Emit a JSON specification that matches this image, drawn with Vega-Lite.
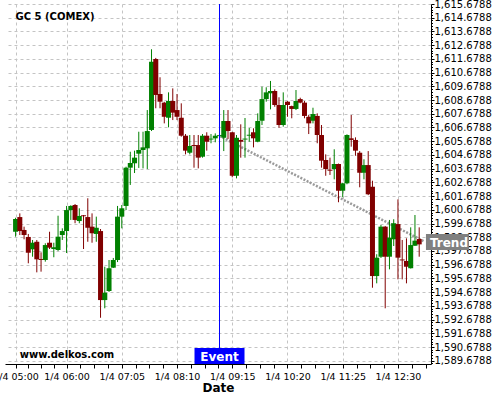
{
  "$schema": "https://vega.github.io/schema/vega-lite/v6.json",
  "width": 426,
  "height": 360,
  "autosize": "none",
  "padding": {"left": 5, "top": 4, "right": 69, "bottom": 36},
  "background": "white",
  "config": {"view": {"stroke": null}, "font": "DejaVu Sans"},
  "datasets": {
    "candles": [
      {"t":"2013-01-04T05:00","o":1599.08,"h":1600.10,"l":1598.72,"c":1600.01},
      {"t":"2013-01-04T05:05","o":1600.15,"h":1600.42,"l":1598.84,"c":1599.13},
      {"t":"2013-01-04T05:10","o":1599.21,"h":1599.45,"l":1598.53,"c":1598.84},
      {"t":"2013-01-04T05:15","o":1598.70,"h":1598.92,"l":1596.78,"c":1597.55},
      {"t":"2013-01-04T05:20","o":1597.80,"h":1598.48,"l":1597.26,"c":1598.28},
      {"t":"2013-01-04T05:25","o":1598.35,"h":1598.48,"l":1596.12,"c":1597.07},
      {"t":"2013-01-04T05:30","o":1597.09,"h":1597.58,"l":1596.17,"c":1597.02},
      {"t":"2013-01-04T05:35","o":1597.02,"h":1598.24,"l":1596.90,"c":1598.11},
      {"t":"2013-01-04T05:40","o":1598.28,"h":1599.08,"l":1597.82,"c":1597.92},
      {"t":"2013-01-04T05:45","o":1597.82,"h":1598.28,"l":1597.22,"c":1597.95},
      {"t":"2013-01-04T05:50","o":1597.75,"h":1600.25,"l":1597.68,"c":1598.72},
      {"t":"2013-01-04T05:55","o":1598.84,"h":1599.33,"l":1598.48,"c":1599.13},
      {"t":"2013-01-04T06:00","o":1599.13,"h":1600.96,"l":1597.53,"c":1600.66},
      {"t":"2013-01-04T06:05","o":1600.66,"h":1601.01,"l":1599.94,"c":1600.96},
      {"t":"2013-01-04T06:10","o":1601.03,"h":1601.10,"l":1599.70,"c":1599.94},
      {"t":"2013-01-04T06:15","o":1599.86,"h":1600.79,"l":1599.70,"c":1600.23},
      {"t":"2013-01-04T06:20","o":1600.28,"h":1600.30,"l":1597.82,"c":1600.21},
      {"t":"2013-01-04T06:25","o":1600.15,"h":1601.52,"l":1598.35,"c":1599.37},
      {"t":"2013-01-04T06:30","o":1599.45,"h":1600.42,"l":1598.28,"c":1598.97},
      {"t":"2013-01-04T06:35","o":1598.92,"h":1600.18,"l":1598.35,"c":1599.37},
      {"t":"2013-01-04T06:40","o":1599.13,"h":1599.28,"l":1592.81,"c":1594.10},
      {"t":"2013-01-04T06:45","o":1594.10,"h":1596.53,"l":1593.50,"c":1594.64},
      {"t":"2013-01-04T06:50","o":1594.76,"h":1597.02,"l":1594.69,"c":1596.42},
      {"t":"2013-01-04T06:55","o":1596.46,"h":1597.17,"l":1596.44,"c":1597.02},
      {"t":"2013-01-04T07:00","o":1597.02,"h":1600.96,"l":1596.87,"c":1600.18},
      {"t":"2013-01-04T07:05","o":1600.18,"h":1601.03,"l":1599.33,"c":1600.79},
      {"t":"2013-01-04T07:10","o":1600.96,"h":1603.82,"l":1600.66,"c":1603.75},
      {"t":"2013-01-04T07:15","o":1603.75,"h":1604.91,"l":1602.49,"c":1604.09},
      {"t":"2013-01-04T07:20","o":1604.07,"h":1604.99,"l":1603.36,"c":1604.48},
      {"t":"2013-01-04T07:25","o":1604.77,"h":1606.37,"l":1603.73,"c":1605.04},
      {"t":"2013-01-04T07:30","o":1605.04,"h":1606.37,"l":1603.70,"c":1605.23},
      {"t":"2013-01-04T07:35","o":1605.16,"h":1607.95,"l":1603.65,"c":1606.42},
      {"t":"2013-01-04T07:40","o":1606.50,"h":1612.38,"l":1606.42,"c":1611.47},
      {"t":"2013-01-04T07:45","o":1611.67,"h":1611.75,"l":1608.08,"c":1609.05},
      {"t":"2013-01-04T07:50","o":1609.12,"h":1610.34,"l":1608.08,"c":1608.56},
      {"t":"2013-01-04T07:55","o":1608.49,"h":1608.55,"l":1606.98,"c":1607.46},
      {"t":"2013-01-04T08:00","o":1607.39,"h":1609.24,"l":1606.69,"c":1608.61},
      {"t":"2013-01-04T08:05","o":1608.61,"h":1609.53,"l":1607.22,"c":1607.76},
      {"t":"2013-01-04T08:10","o":1607.95,"h":1609.12,"l":1607.22,"c":1607.46},
      {"t":"2013-01-04T08:15","o":1607.39,"h":1608.44,"l":1606.01,"c":1606.08},
      {"t":"2013-01-04T08:20","o":1606.08,"h":1606.20,"l":1604.72,"c":1604.99},
      {"t":"2013-01-04T08:25","o":1604.84,"h":1606.13,"l":1604.72,"c":1605.33},
      {"t":"2013-01-04T08:30","o":1605.40,"h":1606.13,"l":1603.75,"c":1605.33},
      {"t":"2013-01-04T08:35","o":1605.40,"h":1606.13,"l":1603.70,"c":1604.48},
      {"t":"2013-01-04T08:40","o":1604.55,"h":1606.20,"l":1604.48,"c":1606.08},
      {"t":"2013-01-04T08:45","o":1606.08,"h":1606.33,"l":1604.99,"c":1605.64},
      {"t":"2013-01-04T08:50","o":1605.80,"h":1606.20,"l":1605.53,"c":1605.87},
      {"t":"2013-01-04T08:55","o":1605.89,"h":1606.25,"l":1605.60,"c":1606.08},
      {"t":"2013-01-04T09:00","o":1606.05,"h":1606.20,"l":1605.98,"c":1606.12},
      {"t":"2013-01-04T09:05","o":1605.93,"h":1607.95,"l":1604.96,"c":1607.15},
      {"t":"2013-01-04T09:10","o":1607.15,"h":1607.95,"l":1605.84,"c":1606.42},
      {"t":"2013-01-04T09:15","o":1606.33,"h":1606.36,"l":1603.05,"c":1603.16},
      {"t":"2013-01-04T09:20","o":1603.16,"h":1606.13,"l":1602.97,"c":1605.93},
      {"t":"2013-01-04T09:25","o":1605.77,"h":1606.91,"l":1604.48,"c":1605.64},
      {"t":"2013-01-04T09:30","o":1605.80,"h":1607.37,"l":1604.48,"c":1605.87},
      {"t":"2013-01-04T09:35","o":1606.08,"h":1606.64,"l":1605.64,"c":1606.15},
      {"t":"2013-01-04T09:40","o":1606.33,"h":1606.62,"l":1605.23,"c":1605.89},
      {"t":"2013-01-04T09:45","o":1605.64,"h":1607.71,"l":1605.60,"c":1607.15},
      {"t":"2013-01-04T09:50","o":1607.17,"h":1609.65,"l":1606.86,"c":1608.75},
      {"t":"2013-01-04T09:55","o":1608.75,"h":1609.61,"l":1608.56,"c":1609.24},
      {"t":"2013-01-04T10:00","o":1609.17,"h":1610.07,"l":1608.00,"c":1609.34},
      {"t":"2013-01-04T10:05","o":1609.34,"h":1609.46,"l":1608.19,"c":1608.32},
      {"t":"2013-01-04T10:10","o":1608.32,"h":1608.88,"l":1606.66,"c":1606.86},
      {"t":"2013-01-04T10:15","o":1606.86,"h":1609.24,"l":1606.74,"c":1608.32},
      {"t":"2013-01-04T10:20","o":1608.56,"h":1608.60,"l":1607.46,"c":1608.32},
      {"t":"2013-01-04T10:25","o":1608.24,"h":1608.27,"l":1607.35,"c":1608.03},
      {"t":"2013-01-04T10:30","o":1608.03,"h":1609.41,"l":1607.95,"c":1608.61},
      {"t":"2013-01-04T10:35","o":1608.75,"h":1608.85,"l":1608.44,"c":1608.49},
      {"t":"2013-01-04T10:40","o":1608.49,"h":1608.61,"l":1607.35,"c":1607.52},
      {"t":"2013-01-04T10:45","o":1607.46,"h":1607.59,"l":1606.20,"c":1606.98},
      {"t":"2013-01-04T10:50","o":1607.17,"h":1608.12,"l":1606.98,"c":1607.66},
      {"t":"2013-01-04T10:55","o":1607.52,"h":1607.71,"l":1605.53,"c":1606.13},
      {"t":"2013-01-04T11:00","o":1606.13,"h":1606.86,"l":1603.75,"c":1604.26},
      {"t":"2013-01-04T11:05","o":1604.31,"h":1604.72,"l":1603.16,"c":1603.65},
      {"t":"2013-01-04T11:10","o":1603.60,"h":1604.48,"l":1603.22,"c":1603.53},
      {"t":"2013-01-04T11:15","o":1603.65,"h":1605.09,"l":1602.90,"c":1604.02},
      {"t":"2013-01-04T11:20","o":1604.02,"h":1604.05,"l":1601.23,"c":1602.07},
      {"t":"2013-01-04T11:25","o":1602.07,"h":1602.65,"l":1601.59,"c":1602.61},
      {"t":"2013-01-04T11:30","o":1602.61,"h":1606.18,"l":1602.54,"c":1606.13},
      {"t":"2013-01-04T11:35","o":1605.89,"h":1607.59,"l":1605.28,"c":1605.77},
      {"t":"2013-01-04T11:40","o":1605.77,"h":1605.96,"l":1604.62,"c":1604.99},
      {"t":"2013-01-04T11:45","o":1604.84,"h":1604.96,"l":1602.32,"c":1603.38},
      {"t":"2013-01-04T11:50","o":1603.38,"h":1604.36,"l":1602.90,"c":1603.94},
      {"t":"2013-01-04T11:55","o":1603.94,"h":1604.96,"l":1601.75,"c":1601.81},
      {"t":"2013-01-04T12:00","o":1602.36,"h":1602.80,"l":1595.00,"c":1595.85},
      {"t":"2013-01-04T12:05","o":1595.85,"h":1597.44,"l":1595.32,"c":1597.19},
      {"t":"2013-01-04T12:10","o":1597.26,"h":1599.57,"l":1597.17,"c":1599.45},
      {"t":"2013-01-04T12:15","o":1599.45,"h":1599.50,"l":1593.50,"c":1597.26},
      {"t":"2013-01-04T12:20","o":1597.26,"h":1599.94,"l":1596.34,"c":1598.65},
      {"t":"2013-01-04T12:25","o":1598.53,"h":1599.99,"l":1598.04,"c":1599.70},
      {"t":"2013-01-04T12:30","o":1599.64,"h":1601.44,"l":1595.61,"c":1597.19},
      {"t":"2013-01-04T12:35","o":1597.06,"h":1598.48,"l":1595.61,"c":1596.99},
      {"t":"2013-01-04T12:40","o":1596.95,"h":1598.60,"l":1595.32,"c":1596.53},
      {"t":"2013-01-04T12:45","o":1596.42,"h":1599.40,"l":1596.40,"c":1598.11},
      {"t":"2013-01-04T12:50","o":1598.06,"h":1600.30,"l":1598.04,"c":1598.43},
      {"t":"2013-01-04T12:55","o":1598.55,"h":1599.40,"l":1597.26,"c":1598.16}
    ],
    "trend": [
      {"t":"2013-01-04T09:00","v":1606.06},
      {"t":"2013-01-04T13:00","v":1598.40}
    ],
    "event": [{"t":"2013-01-04T09:00","label":"Event"}],
    "trendEnd": [{"t":"2013-01-04T13:00","v":1598.40,"label":"Trend"}]
  },
  "layer": [
    {
      "data": {"name": "trend"},
      "mark": {"type": "line", "color": "#9a9a9a", "strokeWidth": 2.5, "strokeDash": [2, 1.5]},
      "encoding": {
        "x": {
          "field": "t", "type": "temporal",
          "scale": {"domain": [{"year":2013,"month":1,"date":4,"hours":4,"minutes":53,"seconds":27},{"year":2013,"month":1,"date":4,"hours":13,"minutes":3}], "nice": false},
          "axis": {
            "title": "Date", "titleFont": "DejaVu Sans", "titleFontSize": 12, "titleFontWeight": "bold", "titleColor": "black", "titlePadding": 2,
            "tickCount": 200,
            "values": [
              {"year":2013,"month":1,"date":4,"hours":5,"minutes":0},
              {"year":2013,"month":1,"date":4,"hours":5,"minutes":15},
              {"year":2013,"month":1,"date":4,"hours":5,"minutes":30},
              {"year":2013,"month":1,"date":4,"hours":5,"minutes":45},
              {"year":2013,"month":1,"date":4,"hours":6,"minutes":0},
              {"year":2013,"month":1,"date":4,"hours":6,"minutes":16,"seconds":15},
              {"year":2013,"month":1,"date":4,"hours":6,"minutes":32,"seconds":30},
              {"year":2013,"month":1,"date":4,"hours":6,"minutes":48,"seconds":45},
              {"year":2013,"month":1,"date":4,"hours":7,"minutes":5},
              {"year":2013,"month":1,"date":4,"hours":7,"minutes":21,"seconds":15},
              {"year":2013,"month":1,"date":4,"hours":7,"minutes":37,"seconds":30},
              {"year":2013,"month":1,"date":4,"hours":7,"minutes":53,"seconds":45},
              {"year":2013,"month":1,"date":4,"hours":8,"minutes":10},
              {"year":2013,"month":1,"date":4,"hours":8,"minutes":26,"seconds":15},
              {"year":2013,"month":1,"date":4,"hours":8,"minutes":42,"seconds":30},
              {"year":2013,"month":1,"date":4,"hours":8,"minutes":58,"seconds":45},
              {"year":2013,"month":1,"date":4,"hours":9,"minutes":15},
              {"year":2013,"month":1,"date":4,"hours":9,"minutes":31,"seconds":15},
              {"year":2013,"month":1,"date":4,"hours":9,"minutes":47,"seconds":30},
              {"year":2013,"month":1,"date":4,"hours":10,"minutes":3,"seconds":45},
              {"year":2013,"month":1,"date":4,"hours":10,"minutes":20},
              {"year":2013,"month":1,"date":4,"hours":10,"minutes":36,"seconds":15},
              {"year":2013,"month":1,"date":4,"hours":10,"minutes":52,"seconds":30},
              {"year":2013,"month":1,"date":4,"hours":11,"minutes":8,"seconds":45},
              {"year":2013,"month":1,"date":4,"hours":11,"minutes":25},
              {"year":2013,"month":1,"date":4,"hours":11,"minutes":41,"seconds":15},
              {"year":2013,"month":1,"date":4,"hours":11,"minutes":57,"seconds":30},
              {"year":2013,"month":1,"date":4,"hours":12,"minutes":13,"seconds":45},
              {"year":2013,"month":1,"date":4,"hours":12,"minutes":30},
              {"year":2013,"month":1,"date":4,"hours":12,"minutes":46,"seconds":15},
              {"year":2013,"month":1,"date":4,"hours":13,"minutes":2,"seconds":30}
            ],
            "labelExpr": "indexof(['05:00','06:00','07:05','08:10','09:15','10:20','11:25','12:30'], timeFormat(datum.value, '%H:%M')) >= 0 ? timeFormat(datum.value, '%-m/%-d %H:%M') : ''",
            "labelFont": "DejaVu Sans", "labelFontSize": 9.5, "labelColor": "black",
            "labelFlush": false, "labelOverlap": false, "labelPadding": 3,
            "tickSize": 4, "tickColor": "black", "domainColor": "black",
            "grid": true, "gridColor": "#c4c4c4", "gridDash": [3, 3],
            "gridOpacity": {"condition": {"test": "indexof(['05:00','06:00','07:05','08:10','09:15','10:20','11:25','12:30'], timeFormat(datum.value, '%H:%M')) >= 0", "value": 1}, "value": 0}
          }
        },
        "y": {
          "field": "v", "type": "quantitative",
          "scale": {"domain": [1589.44, 1615.68], "nice": false, "zero": false},
          "axis": {
            "orient": "right", "title": null,
            "tickCount": 500,
            "values": [1589.4788,1589.6788,1589.8788,
              1590.0788,1590.2788,1590.4788,1590.6788,1590.8788,
              1591.0788,1591.2788,1591.4788,1591.6788,1591.8788,
              1592.0788,1592.2788,1592.4788,1592.6788,1592.8788,
              1593.0788,1593.2788,1593.4788,1593.6788,1593.8788,
              1594.0788,1594.2788,1594.4788,1594.6788,1594.8788,
              1595.0788,1595.2788,1595.4788,1595.6788,1595.8788,
              1596.0788,1596.2788,1596.4788,1596.6788,1596.8788,
              1597.0788,1597.2788,1597.4788,1597.6788,1597.8788,
              1598.0788,1598.2788,1598.4788,1598.6788,1598.8788,
              1599.0788,1599.2788,1599.4788,1599.6788,1599.8788,
              1600.0788,1600.2788,1600.4788,1600.6788,1600.8788,
              1601.0788,1601.2788,1601.4788,1601.6788,1601.8788,
              1602.0788,1602.2788,1602.4788,1602.6788,1602.8788,
              1603.0788,1603.2788,1603.4788,1603.6788,1603.8788,
              1604.0788,1604.2788,1604.4788,1604.6788,1604.8788,
              1605.0788,1605.2788,1605.4788,1605.6788,1605.8788,
              1606.0788,1606.2788,1606.4788,1606.6788,1606.8788,
              1607.0788,1607.2788,1607.4788,1607.6788,1607.8788,
              1608.0788,1608.2788,1608.4788,1608.6788,1608.8788,
              1609.0788,1609.2788,1609.4788,1609.6788,1609.8788,
              1610.0788,1610.2788,1610.4788,1610.6788,1610.8788,
              1611.0788,1611.2788,1611.4788,1611.6788,1611.8788,
              1612.0788,1612.2788,1612.4788,1612.6788,1612.8788,
              1613.0788,1613.2788,1613.4788,1613.6788,1613.8788,
              1614.0788,1614.2788,1614.4788,1614.6788,1614.8788,
              1615.0788,1615.2788,1615.4788,1615.6788],
            "labelExpr": "abs((datum.value - 1589.6788) - round(datum.value - 1589.6788)) < 0.01 ? format(datum.value, ',.4f') : ''",
            "labelFont": "DejaVu Sans", "labelFontSize": 10, "labelColor": "black",
            "labelOverlap": false, "labelPadding": 0,
            "tickSize": {"condition": {"test": "abs((datum.value - 1589.6788) - round(datum.value - 1589.6788)) < 0.01", "value": 3}, "value": 1.5},
            "tickColor": "black", "domainColor": "black",
            "grid": true, "gridColor": "#c4c4c4", "gridDash": [3, 3],
            "gridOpacity": {"condition": {"test": "abs((datum.value - 1589.6788) - round(datum.value - 1589.6788)) < 0.01", "value": 1}, "value": 0}
          }
        }
      }
    },
    {
      "data": {"name": "candles"},
      "mark": {"type": "rule", "strokeWidth": 1},
      "encoding": {
        "x": {"field": "t", "type": "temporal"},
        "y": {"field": "l", "type": "quantitative"},
        "y2": {"field": "h"},
        "color": {"condition": {"test": "datum.c >= datum.o", "value": "#008000"}, "value": "#800000"}
      }
    },
    {
      "data": {"name": "candles"},
      "mark": {"type": "bar", "width": 5},
      "encoding": {
        "x": {"field": "t", "type": "temporal"},
        "y": {"field": "o", "type": "quantitative"},
        "y2": {"field": "c"},
        "color": {"condition": {"test": "datum.c >= datum.o", "value": "#008000"}, "value": "#800000"}
      }
    },
    {
      "data": {"name": "event"},
      "mark": {"type": "rule", "color": "#0000ff", "strokeWidth": 1},
      "encoding": {"x": {"field": "t", "type": "temporal"}}
    },
    {
      "data": {"name": "event"},
      "mark": {"type": "point", "shape": "M-1,-0.32H1V0.32H-1Z", "filled": true, "size": 2500, "color": "#0000ff", "opacity": 1, "strokeWidth": 0},
      "encoding": {
        "x": {"field": "t", "type": "temporal"},
        "y": {"datum": 1590.02, "type": "quantitative"}
      }
    },
    {
      "data": {"name": "event"},
      "mark": {"type": "text", "color": "white", "font": "DejaVu Sans", "fontSize": 12, "fontWeight": "bold", "align": "center", "baseline": "alphabetic"},
      "encoding": {
        "x": {"field": "t", "type": "temporal"},
        "y": {"datum": 1589.68, "type": "quantitative"},
        "text": {"field": "label"}
      }
    },
    {
      "data": {"name": "trendEnd"},
      "mark": {"type": "point", "shape": "M-1,-0.372H1V0.372H-1Z", "filled": true, "size": 1849, "color": "#808080", "opacity": 1, "strokeWidth": 0, "xOffset": 24, "yOffset": 1},
      "encoding": {
        "x": {"field": "t", "type": "temporal"},
        "y": {"field": "v", "type": "quantitative"}
      }
    },
    {
      "data": {"name": "trendEnd"},
      "mark": {"type": "text", "color": "white", "font": "DejaVu Sans", "fontSize": 12, "fontWeight": "bold", "align": "center", "baseline": "middle", "xOffset": 25.5, "yOffset": 1.5},
      "encoding": {
        "x": {"field": "t", "type": "temporal"},
        "y": {"field": "v", "type": "quantitative"},
        "text": {"field": "label"}
      }
    },
    {
      "data": {"values": [{"label": "GC 5 (COMEX)"}]},
      "mark": {"type": "text", "color": "black", "font": "DejaVu Sans", "fontSize": 10, "fontWeight": "bold", "align": "left", "baseline": "alphabetic"},
      "encoding": {
        "x": {"datum": {"year":2013,"month":1,"date":4,"hours":5,"minutes":0}, "type": "temporal"},
        "y": {"datum": 1614.51, "type": "quantitative"},
        "text": {"field": "label"}
      }
    },
    {
      "data": {"values": [{"label": "www.delkos.com"}]},
      "mark": {"type": "text", "color": "black", "font": "DejaVu Sans", "fontSize": 10, "fontWeight": "bold", "align": "left", "baseline": "alphabetic"},
      "encoding": {
        "x": {"datum": {"year":2013,"month":1,"date":4,"hours":5,"minutes":5}, "type": "temporal"},
        "y": {"datum": 1589.88, "type": "quantitative"},
        "text": {"field": "label"}
      }
    }
  ]
}
